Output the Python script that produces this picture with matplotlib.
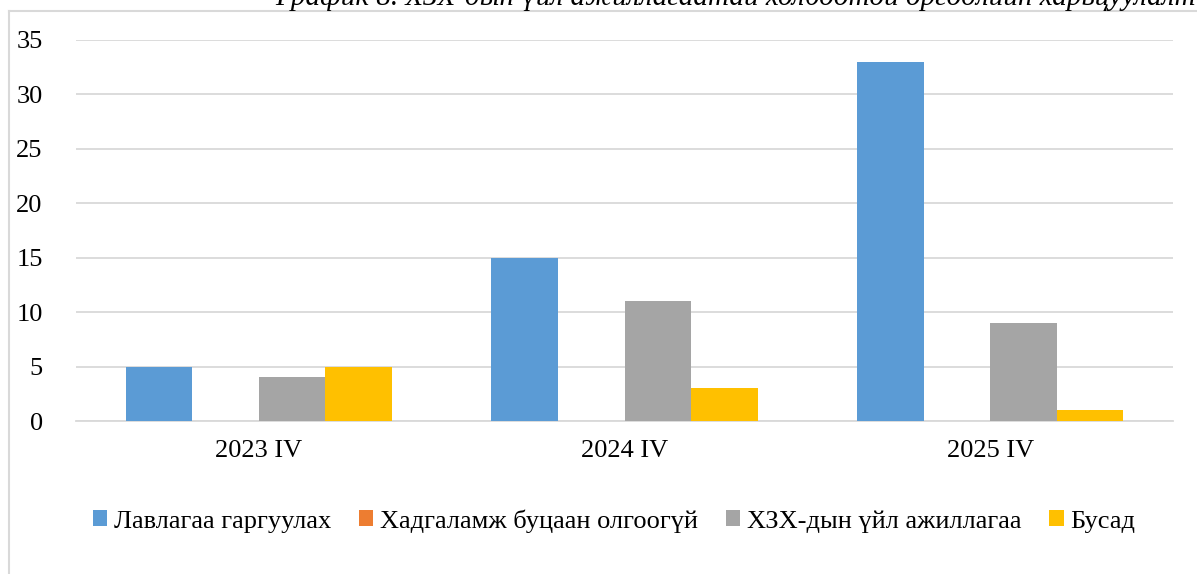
import matplotlib.pyplot as plt
from matplotlib.lines import Line2D
import numpy as np

plt.rcParams['font.family'] = ['Liberation Serif', 'DejaVu Serif']

categories = ["2023 IV", "2024 IV", "2025 IV"]
seriesNames = ["Лавлагаа гаргуулах", "Хадгаламж буцаан олгоогүй", "ХЗХ-дын үйл ажиллагаа", "Бусад"]
lavlagaa = [5, 15, 33]
hadgalamj = [0, 0, 0]
hzhUil = [4, 11, 9]
busad = [5, 3, 1]
colors = ["#5B9BD5", "#ED7D31", "#A5A5A5", "#FFC000"]
title = "График 8. ХЗХ-дын үйл ажиллагаатай холбоотой өргөдлийн харьцуулалт"

fig = plt.figure(figsize=(11.97, 5.74), dpi=100)
W, H = 1197, 574
ax = fig.add_axes([76 / W, (574 - 421) / H, (1173 - 76) / W, (421 - 40) / H])

x = np.arange(len(categories))
barWidth = 0.182
for i, (name, vals) in enumerate(zip(seriesNames, [lavlagaa, hadgalamj, hzhUil, busad])):
    ax.bar(x + (i - 1.5) * barWidth, vals, barWidth, color=colors[i], label=name, zorder=3)

ax.set_xlim(-0.5, 2.5)
ax.set_ylim(0, 35)
ax.set_yticks(range(0, 36, 5))
ax.set_xticks(x)
ax.set_xticklabels(categories)
ax.yaxis.grid(True, color="#D9D9D9", linewidth=1.3, zorder=0)
for side in ["top", "right", "left"]:
    ax.spines[side].set_visible(False)
ax.spines["bottom"].set_color("#D9D9D9")
ax.spines["bottom"].set_linewidth(1.3)
ax.tick_params(axis="both", length=0, labelsize=19)
ax.tick_params(axis="y", pad=24)
ax.tick_params(axis="x", pad=14)

ax.legend(loc="center", bbox_to_anchor=(614 / W, (574 - 521) / H), bbox_transform=fig.transFigure,
          ncol=4, frameon=False, fontsize=19, handlelength=0.55, handleheight=0.55,
          handletextpad=0.25, columnspacing=1.05)

# chart area border (top and left edges only are visible)
fig.add_artist(Line2D([9 / W, 1.0], [(574 - 11) / H] * 2, transform=fig.transFigure,
                      color="#D9D9D9", linewidth=1.5))
fig.add_artist(Line2D([9 / W] * 2, [0, (574 - 11) / H], transform=fig.transFigure,
                      color="#D9D9D9", linewidth=1.5))

fig.text(275 / W, (574 - 5) / H, title, fontsize=21, style="italic", ha="left", va="baseline")

plt.savefig("out.png", dpi=100)
